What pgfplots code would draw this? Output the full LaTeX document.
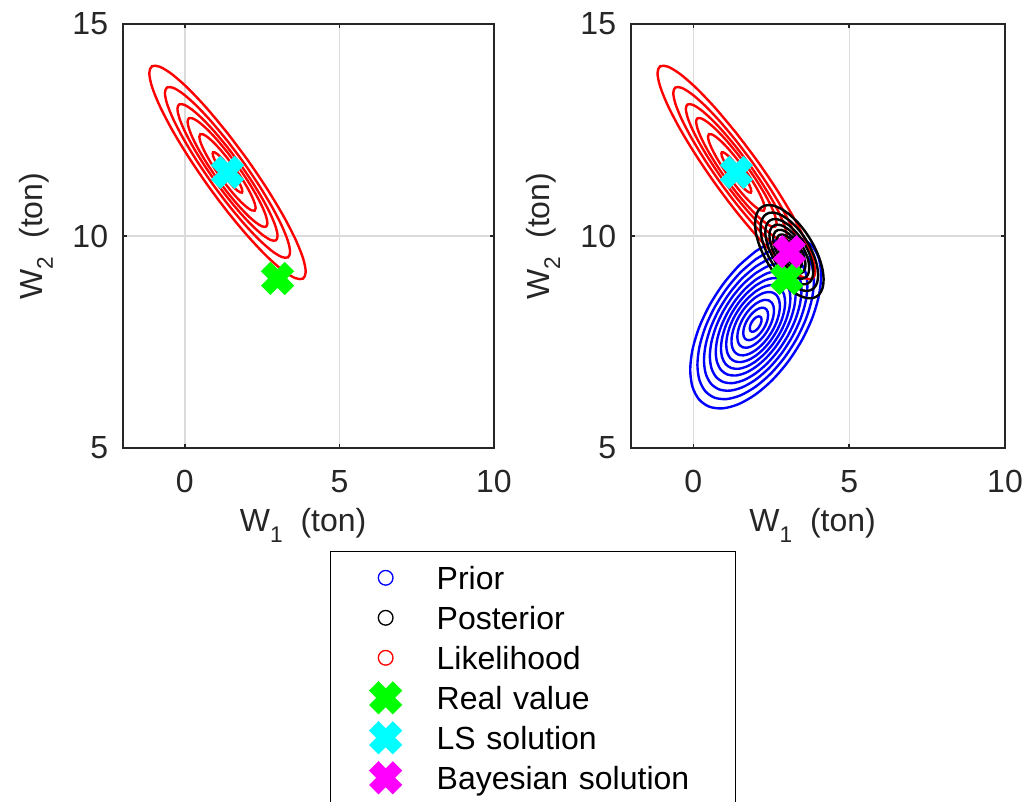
\documentclass[border=0pt]{standalone}
\usepackage{fontspec}
\setmainfont{Liberation Sans}
\usepackage{pgfplots}
\usepackage{pgfplotstable}
\pgfplotsset{compat=1.18}

\definecolor{axgray}{rgb}{0.15,0.15,0.15}
\definecolor{gridgray}{rgb}{0.86,0.86,0.86}
\definecolor{realc}{rgb}{0,1,0}
\definecolor{lsc}{rgb}{0,1,1}
\definecolor{bayc}{rgb}{1,0,1}
\definecolor{priorc}{rgb}{0,0,1}
\definecolor{likec}{rgb}{1,0,0}

% lowered subscript used in the axis labels
\newcommand\lsub[1]{\raisebox{-8pt}{\fontsize{17}{17}\selectfont #1}}

% outermost contour of each density, as offsets (ton) from its centre
\pgfplotstableread{
dx dy
0.000 0.926
-0.655 1.501
-1.265 1.974
-1.789 2.312
-2.191 2.493
-2.444 2.504
-2.530 2.344
-2.444 2.024
-2.191 1.566
-1.789 1.002
-1.265 0.370
-0.655 -0.288
0.000 -0.926
0.655 -1.501
1.265 -1.974
1.789 -2.312
2.191 -2.493
2.444 -2.504
2.530 -2.344
2.444 -2.024
2.191 -1.566
1.789 -1.002
1.265 -0.370
0.655 0.288
0.000 0.926
}\likeshape

\pgfplotstableread{
dx dy
0.000 1.720
-0.544 1.375
-1.050 0.939
-1.485 0.440
-1.819 -0.086
-2.028 -0.604
-2.100 -1.078
-2.028 -1.477
-1.819 -1.773
-1.485 -1.946
-1.050 -1.984
-0.544 -1.884
0.000 -1.654
0.544 -1.309
1.050 -0.873
1.485 -0.374
1.819 0.152
2.028 0.670
2.100 1.144
2.028 1.543
1.819 1.839
1.485 2.012
1.050 2.050
0.544 1.950
0.000 1.720
}\priorshape

\pgfplotstableread{
dx dy
0.000 0.880
-0.285 1.021
-0.550 1.092
-0.778 1.089
-0.953 1.012
-1.063 0.865
-1.100 0.660
-1.063 0.410
-0.953 0.132
-0.778 -0.156
-0.550 -0.432
-0.285 -0.679
0.000 -0.880
0.285 -1.021
0.550 -1.092
0.778 -1.089
0.953 -1.012
1.063 -0.865
1.100 -0.660
1.063 -0.410
0.953 -0.132
0.778 0.156
0.550 0.432
0.285 0.679
0.000 0.880
}\postshape

\pgfplotsset{
  panel/.style={
    scale only axis,
    height=318pt,
    xmin=-2, xmax=10, ymin=5, ymax=15,
    xtick={0,5,10}, ytick={5,10,15},
    tick align=inside,
    major tick length=3pt,
    grid=major,
    grid style={gridgray, line width=1pt},
    axis line style={axgray, line width=1.2pt},
    tick style={axgray, line width=1.2pt},
    /pgf/number format/assume math mode=true,
    tick label style={text=axgray, font=\fontsize{24}{28}\selectfont},
    xticklabel style={inner sep=0pt, yshift=-16.5pt},
    yticklabel style={inner sep=0pt, xshift=-11pt},
    every axis x label/.style={at={(axis description cs:0.5,-0.197)}, anchor=base,
      xshift=-4pt, text=axgray, font=\fontsize{24}{28}\selectfont},
    every axis y label/.style={at={(axis description cs:-0.218,0.5)}, rotate=90, anchor=base,
      text=axgray, font=\fontsize{24}{28}\selectfont},
    xlabel={W\lsub{1}\ \ (ton)},
    ylabel={W\lsub{2}\ \ (ton)},
  },
  contour/.style={line width=1.8pt, smooth, forget plot},
  cross/.style={mark=x, mark size=12.6pt, mark options={line width=10pt, solid}},
}

\begin{document}
\begin{tikzpicture}
\useasboundingbox (0pt,0pt) rectangle (768pt,-600.75pt);

% likelihood only
\begin{axis}[panel, width=278.25pt, at={(92.25pt,-336pt)}, anchor=south west]
\pgfplotsinvokeforeach{1,0.80,0.64,0.51,0.36,0.19}{
  \addplot[contour, likec] table[x expr={1.38+#1*\thisrow{dx}}, y expr={11.5+#1*\thisrow{dy}}] {\likeshape};
}
\addplot[realc, cross, forget plot] coordinates {(3,9)};
\addplot[lsc, cross, forget plot] coordinates {(1.38,11.5)};
\end{axis}

% prior, likelihood and posterior
\begin{axis}[panel, width=280.5pt, at={(473.25pt,-336pt)}, anchor=south west,
  legend cell align=left,
  legend image code/.code={\path[draw=none,fill=none] (-41.25pt,-10pt) rectangle (38.25pt,10pt); \draw[#1,overlay] plot coordinates {(0pt,0pt)};},
  legend style={at={(axis description cs:-0.8048,-0.2429)}, anchor=north west,
    draw=black, line width=1pt, inner xsep=0pt, inner ysep=8.2pt,
    row sep=7.2pt, column sep=0pt, text=black,
    font=\fontsize{24}{28}\selectfont,
    nodes={inner sep=0pt, text height=20pt, text depth=2.8pt, text width=224.25pt, align=left, anchor=west}},
]
\pgfplotsinvokeforeach{1,0.89,0.79,0.70,0.61,0.53,0.45,0.37,0.28,0.19,0.09}{
  \addplot[contour, priorc] table[x expr={2+#1*\thisrow{dx}}, y expr={7.92+#1*\thisrow{dy}}] {\priorshape};
}
\pgfplotsinvokeforeach{1,0.80,0.64,0.51,0.36,0.19}{
  \addplot[contour, likec] table[x expr={1.38+#1*\thisrow{dx}}, y expr={11.5+#1*\thisrow{dy}}] {\likeshape};
}
\pgfplotsinvokeforeach{1,0.84,0.70,0.58,0.47,0.37,0.27,0.17}{
  \addplot[contour, black] table[x expr={3.08+#1*\thisrow{dx}}, y expr={9.63+#1*\thisrow{dy}}] {\postshape};
}
\addlegendimage{priorc, mark=o, mark size=5.5pt, mark options={line width=1pt}}
\addlegendentry{Prior}
\addlegendimage{black, mark=o, mark size=5.5pt, mark options={line width=1pt}}
\addlegendentry{Posterior}
\addlegendimage{likec, mark=o, mark size=5.5pt, mark options={line width=1pt}}
\addlegendentry{Likelihood}
\addplot[realc, cross] coordinates {(3,9)};
\addlegendentry{Real value}
\addplot[lsc, cross] coordinates {(1.38,11.5)};
\addlegendentry{LS solution}
\addplot[bayc, cross] coordinates {(3.08,9.63)};
\addlegendentry{Bayesian solution}
\end{axis}
\end{tikzpicture}
\end{document}
